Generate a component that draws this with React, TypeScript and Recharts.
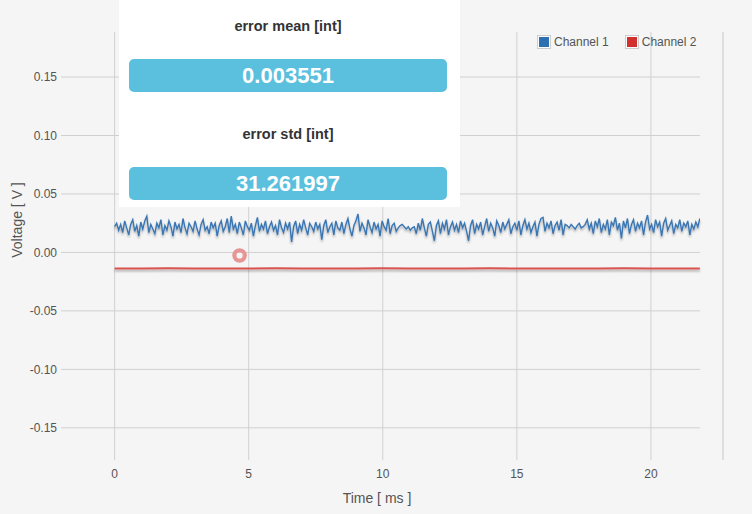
import React from "react";
import {
  LineChart,
  Line,
  XAxis,
  YAxis,
  Legend,
  ReferenceDot,
  ReferenceLine,
} from "recharts";

// Channel 1 samples (mV), one sample every 0.075 ms starting at 0 ms
const sampleStepMs = 0.075;
const channel1mV = [
  22,25,19,24,17,27,21,15,24,28,18,23,14,26,20,27,31,17,24,20,
  16,25,21,28,15,23,19,27,22,14,26,20,24,17,29,21,16,25,22,18,
  27,20,15,24,28,19,22,16,26,21,25,14,23,27,18,22,29,17,31,20,
  24,16,26,21,15,27,22,19,25,14,23,30,18,24,20,27,16,22,26,19,
  23,15,28,21,17,25,20,26,9,22,27,16,24,19,28,21,15,25,22,18,
  26,20,24,11,23,28,17,22,25,15,27,21,19,26,16,24,29,20,14,23,
  27,33,18,25,21,15,28,22,17,26,20,24,14,27,22,19,29,16,23,25,
  18,21,23,24,22,20,22,19,21,22,16,25,19,29,21,14,24,26,18,10,
  23,27,16,25,20,28,15,22,26,19,24,17,27,21,25,18,10,23,28,16,
  24,20,26,15,22,29,18,25,21,14,27,23,17,26,20,24,28,16,22,25,
  19,27,15,23,28,20,25,17,22,26,14,24,29,30,18,25,21,27,16,23,
  26,19,28,15,24,23,21,24,22,20,23,25,21,22,24,28,20,25,16,27,
  22,29,17,24,20,28,15,26,23,30,19,25,12,27,21,29,16,24,28,18,
  25,21,27,15,26,32,20,24,17,28,22,26,14,25,29,19,23,27,16,24,
  21,28,18,25,22,27,15,24,20,26,22,29,
];

// Channel 2 samples (V)
const channel2Times = [0,1,2,3,4,5,6,7,8,9,10,11,12,13,14,15,16,17,18,19,20,21,21.825];
const channel2Values = [
  -0.0137,-0.0138,-0.0136,-0.0137,-0.0138,-0.0137,-0.0136,-0.0137,-0.0138,-0.0137,
  -0.0136,-0.0137,-0.0137,-0.0138,-0.0136,-0.0137,-0.0137,-0.0138,-0.0137,-0.0136,
  -0.0137,-0.0138,-0.0137,
];

// Highlighted (hovered) point
const hoverPoint = { t: 4.66, v: -0.0026 };

const xTicks = [0, 5, 10, 15, 20];
const yTicks = [-0.15, -0.1, -0.05, 0, 0.05, 0.1, 0.15];
const xDomain = [-2, 21.83];
const yDomain = [-0.1775, 0.1885];

const statLabels = ["error mean [int]", "error std [int]"];
const statValues = ["0.003551", "31.261997"];

const seriesNames = ["Channel 1", "Channel 2"];
const seriesColors = ["#3a76b3", "#d9534f"];
const legendColors = ["#2d70b2", "#d1302f"];

const ch1Data = channel1mV.map((mv, i) => ({
  t: +(i * sampleStepMs).toFixed(3),
  v: mv / 1000,
}));
const ch2Data = channel2Times.map((t, i) => ({ t, v: channel2Values[i] }));

const FONT = '"Liberation Sans", Arial, sans-serif';
const GRID = "#d0d0d0";

const renderLegend = () => (
  <div style={{ display: "flex", alignItems: "center", fontFamily: FONT, fontSize: 12, color: "#545454" }}>
    {seriesNames.map((name, i) => (
      <div key={name} style={{ display: "flex", alignItems: "center", marginRight: i === 0 ? 16 : 0 }}>
        <div
          style={{
            width: 10,
            height: 10,
            border: "1px solid #cccccc",
            padding: 1,
            marginRight: 3,
            background: "#ffffff",
          }}
        >
          <div style={{ width: 10, height: 10, background: legendColors[i] }} />
        </div>
        <span>{name}</span>
      </div>
    ))}
  </div>
);

const cssText = `
.shadowed-line { filter: url(#lineShadow); }
`;

export default function App() {
  return (
    <div
      style={{
        position: "absolute",
        left: 0,
        top: 0,
        width: 752,
        height: 514,
        background: "#f5f5f5",
        fontFamily: FONT,
        overflow: "hidden",
      }}
    >
      <style>{cssText}</style>
      <LineChart
        width={752}
        height={514}
        margin={{ top: 32, right: 52, bottom: 0, left: 0 }}
        style={{ fontFamily: FONT }}
      >
        <defs>
          <filter
            id="lineShadow"
            filterUnits="userSpaceOnUse"
            x="0"
            y="0"
            width="752"
            height="514"
          >
            <feDropShadow dx="0" dy="2" stdDeviation="1" floodColor="#000000" floodOpacity="0.3" />
          </filter>
        </defs>
        <XAxis
          type="number"
          dataKey="t"
          domain={xDomain}
          ticks={xTicks}
          allowDataOverflow
          height={54}
          axisLine={false}
          tickLine={false}
          tickSize={0}
          tickMargin={9}
          tick={{ fill: "#545454", fontSize: 12, fontFamily: FONT }}
          label={(props: any) => {
            const vb = props.viewBox;
            return (
              <text
                x={vb.x + vb.width / 2 - 3.5}
                y={vb.y + 38}
                textAnchor="middle"
                dominantBaseline="central"
                fill="#545454"
                fontSize={14}
                fontFamily={FONT}
              >
                Time [ ms ]
              </text>
            );
          }}
        />
        <YAxis
          type="number"
          domain={yDomain}
          ticks={yTicks}
          allowDataOverflow
          width={61}
          axisLine={false}
          tickLine={false}
          tickSize={0}
          tickMargin={4}
          tickFormatter={(v: number) => v.toFixed(2)}
          tick={{ fill: "#545454", fontSize: 12, fontFamily: FONT }}
          label={(props: any) => {
            const vb = props.viewBox;
            const cx = vb.x + 17;
            const cy = vb.y + vb.height / 2 - 26;
            return (
              <text
                x={cx}
                y={cy}
                transform={`rotate(-90 ${cx} ${cy})`}
                textAnchor="middle"
                dominantBaseline="central"
                fill="#545454"
                fontSize={14}
                fontFamily={FONT}
              >
                Voltage [ V ]
              </text>
            );
          }}
        />
        {yTicks.map((v) => (
          <ReferenceLine key={`gy${v}`} y={v} stroke={GRID} strokeWidth={1} />
        ))}
        {xTicks.map((t) => (
          <ReferenceLine key={`gx${t}`} x={t} stroke={GRID} strokeWidth={1} />
        ))}
        <Legend
          layout="horizontal"
          verticalAlign="middle"
          align="center"
          content={renderLegend}
          wrapperStyle={{ position: "absolute", top: 35, left: 537, width: "auto", height: "auto" }}
        />
        <Line
          data={ch2Data}
          dataKey="v"
          name={seriesNames[1]}
          type="linear"
          className="shadowed-line"
          stroke={seriesColors[1]}
          strokeWidth={2}
          dot={false}
          activeDot={false}
          isAnimationActive={false}
        />
        <Line
          data={ch1Data}
          dataKey="v"
          name={seriesNames[0]}
          type="linear"
          className="shadowed-line"
          stroke={seriesColors[0]}
          strokeWidth={1.4}
          dot={false}
          activeDot={false}
          isAnimationActive={false}
        />
        <ReferenceDot
          x={hoverPoint.t}
          y={hoverPoint.v}
          r={5.2}
          fill="none"
          stroke="#e69696"
          strokeWidth={4.2}
          isFront
        />
      </LineChart>

      {/* right border line */}
      <div
        style={{
          position: "absolute",
          left: 722,
          top: 32,
          width: 2,
          height: 428,
          background: "#dedede",
        }}
      />

      {/* stats panel */}
      <div
        style={{
          position: "absolute",
          left: 119,
          top: 0,
          width: 341,
          height: 207,
          background: "#ffffff",
          fontFamily: FONT,
        }}
      >
        {statLabels.map((label, i) => (
          <React.Fragment key={label}>
            <div
              style={{
                position: "absolute",
                left: 0,
                width: 338,
                top: 17 + i * 108,
                height: 18,
                lineHeight: "18px",
                textAlign: "center",
                fontWeight: "bold",
                fontSize: 14.5,
                color: "#333333",
              }}
            >
              {label}
            </div>
            <div
              style={{
                position: "absolute",
                left: 10,
                width: 318,
                top: 59 + i * 108,
                height: 33,
                lineHeight: "33px",
                borderRadius: 5,
                background: "#5bc0de",
                color: "#ffffff",
                textAlign: "center",
                fontWeight: "bold",
                fontSize: 22,
              }}
            >
              {statValues[i]}
            </div>
          </React.Fragment>
        ))}
      </div>
    </div>
  );
}
